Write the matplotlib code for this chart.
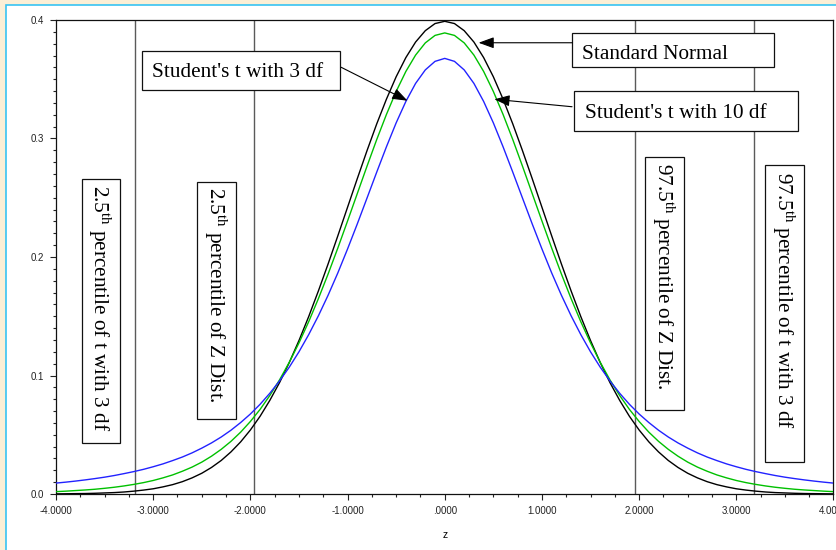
import matplotlib.pyplot as plt
import matplotlib.patches as patches
from matplotlib.ticker import MultipleLocator, FuncFormatter
import numpy as np

plt.rcParams['mathtext.fontset'] = 'custom'
plt.rcParams['mathtext.rm'] = 'Liberation Serif'
plt.rcParams['mathtext.it'] = 'Liberation Serif:italic'

# grid of z values read at every 0.1 from -4 to 4
z = np.linspace(-4, 4, 81)

# densities
normal_pdf = [
    .0001, .0002, .0003, .0004, .0006, .0009, .0012, .0017, .0024, .0033,
    .0044, .0060, .0079, .0104, .0136, .0175, .0224, .0283, .0355, .0440,
    .0540, .0656, .0790, .0940, .1109, .1295, .1497, .1714, .1942, .2179,
    .2420, .2661, .2897, .3123, .3332, .3521, .3683, .3814, .3910, .3970,
    .3989,
    .3970, .3910, .3814, .3683, .3521, .3332, .3123, .2897, .2661, .2420,
    .2179, .1942, .1714, .1497, .1295, .1109, .0940, .0790, .0656, .0540,
    .0440, .0355, .0283, .0224, .0175, .0136, .0104, .0079, .0060, .0044,
    .0033, .0024, .0017, .0012, .0009, .0006, .0004, .0003, .0002, .0001,
]
t10_pdf = [
    .0020, .0024, .0029, .0034, .0040, .0048, .0057, .0068, .0081, .0096,
    .0114, .0136, .0161, .0192, .0227, .0269, .0319, .0377, .0444, .0522,
    .0612, .0714, .0831, .0963, .1111, .1275, .1454, .1649, .1857, .2076,
    .2304, .2535, .2766, .2991, .3203, .3397, .3566, .3704, .3807, .3870,
    .3891,
    .3870, .3807, .3704, .3566, .3397, .3203, .2991, .2766, .2535, .2304,
    .2076, .1857, .1649, .1454, .1275, .1111, .0963, .0831, .0714, .0612,
    .0522, .0444, .0377, .0319, .0269, .0227, .0192, .0161, .0136, .0114,
    .0096, .0081, .0068, .0057, .0048, .0040, .0034, .0029, .0024, .0020,
]
t3_pdf = [
    .0092, .0100, .0109, .0119, .0130, .0142, .0156, .0172, .0189, .0208,
    .0230, .0254, .0282, .0312, .0347, .0387, .0431, .0481, .0538, .0603,
    .0675, .0757, .0850, .0954, .1070, .1200, .1345, .1504, .1678, .1866,
    .2068, .2279, .2497, .2716, .2930, .3132, .3313, .3465, .3579, .3651,
    .3676,
    .3651, .3579, .3465, .3313, .3132, .2930, .2716, .2497, .2279, .2068,
    .1866, .1678, .1504, .1345, .1200, .1070, .0954, .0850, .0757, .0675,
    .0603, .0538, .0481, .0431, .0387, .0347, .0312, .0282, .0254, .0230,
    .0208, .0189, .0172, .0156, .0142, .0130, .0119, .0109, .0100, .0092,
]

cutoffs = [-3.182, -1.96, 1.96, 3.182]

serif = 'Liberation Serif'
fsize = 15.3


def boxed(ax, x0, y0, x1, y1, tx, ty, s, vertical=False):
    ax.add_patch(patches.Rectangle((x0, y0), x1 - x0, y1 - y0, facecolor='white',
                                   edgecolor='#111111', lw=0.9, zorder=4))
    if vertical:
        ax.text(tx, ty, s, rotation=-90, ha='center', va='top', fontsize=fsize,
                family=serif, zorder=5)
    else:
        ax.text(tx, ty, s, ha='left', va='baseline', fontsize=fsize,
                family=serif, zorder=5)


def arrow(ax, tail, tip):
    ax.annotate('', xy=tip, xytext=tail, zorder=5,
                arrowprops=dict(arrowstyle='-|>,head_length=0.55,head_width=0.2',
                                mutation_scale=17, color='black', lw=0.8,
                                shrinkA=0, shrinkB=0))


fig = plt.figure(figsize=(8.37, 5.5), dpi=100, facecolor='#fbefd6')
fig.patches.append(patches.Rectangle((6.5 / 837, -0.1), 1.2, 1.0909,
                                     transform=fig.transFigure, facecolor='white',
                                     edgecolor='#38c3f2', lw=1.2, zorder=-1))

ax = fig.add_axes([56 / 837, 56 / 550, 777.5 / 837, 474 / 550])
ax.set_facecolor('white')

ax.plot(z, normal_pdf, color='black', lw=1.0, zorder=3)
ax.plot(z, t10_pdf, color='#00c000', lw=1.0, zorder=3)
ax.plot(z, t3_pdf, color='#2222ff', lw=1.0, zorder=3)

for c in cutoffs:
    ax.axvline(c, color='#5a5a5a', lw=1.0, zorder=2)

ax.set_xlim(-4, 4)
ax.set_ylim(0, 0.4)

ax.xaxis.set_major_locator(MultipleLocator(1))
ax.xaxis.set_minor_locator(MultipleLocator(0.25))
ax.yaxis.set_major_locator(MultipleLocator(0.1))
ax.yaxis.set_minor_locator(MultipleLocator(0.01))


def xfmt(v, pos):
    if abs(v) < 1e-9:
        return '.0000'
    return '%.4f' % v


ax.xaxis.set_major_formatter(FuncFormatter(xfmt))
ax.yaxis.set_major_formatter(FuncFormatter(lambda v, p: '%.1f' % v))
ax.tick_params(which='major', direction='out', length=4.5, width=0.8,
               labelsize=7, pad=4, colors='#222222')
ax.tick_params(which='minor', direction='out', length=2.5, width=0.8, colors='#222222')
for lab in ax.get_xticklabels() + ax.get_yticklabels():
    lab.set_family('Liberation Sans')
for sp in ax.spines.values():
    sp.set_linewidth(0.9)
    sp.set_color('#111111')

ax.set_xlabel('z', fontsize=7.5, family='Liberation Sans', labelpad=10)

# horizontal labels
boxed(ax, -3.112, 0.3409, -1.074, 0.3741, -3.012, 0.3516, "Student's t with 3 df")
boxed(ax, 1.310, 0.3606, 3.386, 0.3893, 1.413, 0.3671, "Standard Normal")
boxed(ax, 1.326, 0.3066, 3.637, 0.3401, 1.439, 0.3176, "Student's t with 10 df")

arrow(ax, (-1.066, 0.3601), (-0.383, 0.3319))
arrow(ax, (1.313, 0.3808), (0.348, 0.3808))
arrow(ax, (1.310, 0.3268), (0.510, 0.3331))

# vertical labels
boxed(ax, -3.735, 0.0428, -3.341, 0.2656, -3.56, 0.2608,
      r'2.5$^{\mathrm{th}}$ percentile of t with 3 df', vertical=True)
boxed(ax, -2.545, 0.0633, -2.147, 0.2635, -2.36, 0.2593,
      r'2.5$^{\mathrm{th}}$ percentile of Z Dist.', vertical=True)
boxed(ax, 2.064, 0.0709, 2.466, 0.2846, 2.249, 0.2791,
      r'97.5$^{\mathrm{th}}$ percentile of Z Dist.', vertical=True)
boxed(ax, 3.300, 0.0273, 3.701, 0.2776, 3.485, 0.2720,
      r'97.5$^{\mathrm{th}}$ percentile of t with 3 df', vertical=True)

fig.savefig('out.png', dpi=100, facecolor=fig.get_facecolor())
